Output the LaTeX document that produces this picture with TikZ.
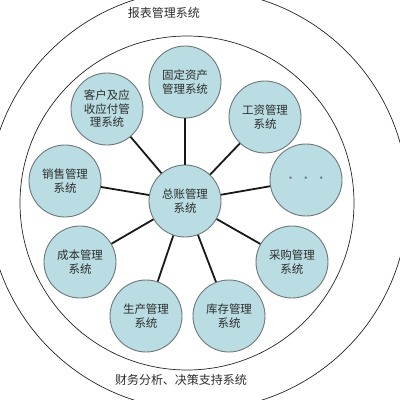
\documentclass[tikz,border=0pt]{standalone}
\usepackage{fontspec}
\setmainfont{Noto Sans CJK SC}
\definecolor{subfill}{RGB}{185,221,226}
\definecolor{subline}{RGB}{110,120,122}
\definecolor{txt}{RGB}{45,45,45}
\begin{document}
\begin{tikzpicture}[x=1pt,y=-1pt,
  sys/.style={circle,draw=subline,line width=0.9pt,fill=subfill,minimum size=72pt,inner sep=0pt,
    align=center,text=txt,font=\fontsize{11.5}{14}\selectfont},
  ring/.style={draw=black!85,line width=0.7pt},
  link/.style={draw=black!90,line width=1.8pt},
  lbl/.style={text=txt,font=\fontsize{12}{14}\selectfont,inner sep=0pt}]
\useasboundingbox (0,0) rectangle (400,400);
\fill[white] (0,0) rectangle (400,400);
\begin{scope}
\clip (0,0) rectangle (400,400);
\draw[ring] (198,200) circle[radius=210];
\end{scope}
\draw[ring] (187,203) circle[radius=167];
\node[lbl] (t1) at (164,13) {报表管理系统};
\node[lbl] (t2) at (181,380) {财务分析、决策支持系统};
\node[sys] (hub) at (185,201) {总账管理\\系统};
\node[sys] (gd) at (185,82) {固定资产\\管理系统};
\node[sys] (gz) at (265,117) {工资管理\\系统};
\node[sys,font=\fontsize{11.5}{13.5}\selectfont] (kh) at (107,109) {客户及应\\收应付管\\理系统};
\node[sys] (xs) at (65,181) {销售管理\\系统};
\node[sys,text=subline] (dots) at (306,180) {·\hspace{4pt}·\hspace{4pt}·};
\node[sys] (cb) at (80,262) {成本管理\\系统};
\node[sys] (cg) at (292,262) {采购管理\\系统};
\node[sys] (sc) at (146,316) {生产管理\\系统};
\node[sys] (kc) at (229,316) {库存管理\\系统};
\begin{scope}[on background layer/.style={}]
\foreach \n in {gd,gz,kh,xs,dots,cb,cg,sc,kc}{
  \draw[link] (hub) -- (\n);
}
\end{scope}
\end{tikzpicture}
\end{document}
